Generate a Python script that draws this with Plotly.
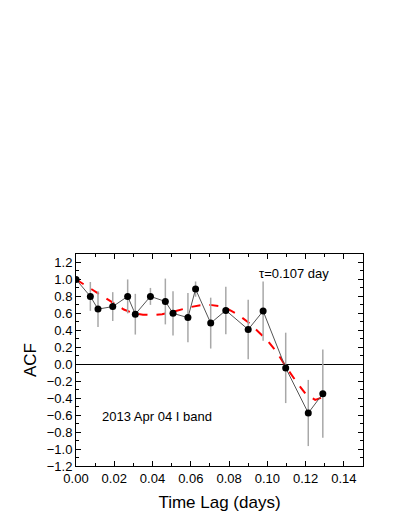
import plotly.graph_objects as go

# Data
lag = [0.0, 0.0075, 0.0115, 0.0192, 0.027, 0.031, 0.0389, 0.0467, 0.0507, 0.0585,
       0.0625, 0.0704, 0.0783, 0.090, 0.0978, 0.1096, 0.1214, 0.129]
acf = [1.0, 0.80, 0.65, 0.68, 0.80, 0.59, 0.80, 0.74, 0.60, 0.55,
       0.886, 0.485, 0.635, 0.41, 0.627, -0.043, -0.575, -0.347]
acf_err = [0.0, 0.17, 0.21, 0.17, 0.20, 0.24, 0.10, 0.27, 0.26, 0.29,
           0.09, 0.30, 0.28, 0.35, 0.35, 0.415, 0.39, 0.52]

fit_lag = [0.0, 0.005, 0.01, 0.015, 0.02, 0.025, 0.03, 0.035, 0.04, 0.045, 0.05,
           0.055, 0.06, 0.065, 0.07, 0.075, 0.08, 0.085, 0.09, 0.095, 0.10,
           0.105, 0.11, 0.115, 0.12, 0.125, 0.129]
fit_acf = [1.0, 0.93, 0.86, 0.78, 0.71, 0.645, 0.60, 0.585, 0.58, 0.59, 0.615,
           0.645, 0.675, 0.695, 0.70, 0.685, 0.645, 0.58, 0.495, 0.39, 0.28,
           0.14, -0.04, -0.20, -0.35, -0.42, -0.39]

x_ticks = [0.0, 0.02, 0.04, 0.06, 0.08, 0.10, 0.12, 0.14]
y_ticks = [-1.2, -1.0, -0.8, -0.6, -0.4, -0.2, 0.0, 0.2, 0.4, 0.6, 0.8, 1.0, 1.2]

FONT = "Liberation Sans, Arial, sans-serif"

fig = go.Figure()

fig.add_trace(go.Scatter(
    x=fit_lag, y=fit_acf, mode="lines",
    line=dict(color="#ff0000", width=2, dash="dash"),
    showlegend=False, hoverinfo="skip"))

fig.add_trace(go.Scatter(
    x=lag, y=acf, mode="lines+markers",
    line=dict(color="#555555", width=1),
    marker=dict(color="black", size=7),
    error_y=dict(type="data", array=acf_err, visible=True,
                 color="#a8a8a8", thickness=1.5, width=0),
    showlegend=False))

fig.add_annotation(x=0.1137, y=1.07, xref="x", yref="y", text="τ=0.107 day",
                   showarrow=False, font=dict(family=FONT, size=13, color="black"))
fig.add_annotation(x=0.0425, y=-0.62, xref="x", yref="y", text="2013 Apr 04 I band",
                   showarrow=False, font=dict(family=FONT, size=13, color="black"))

axis_common = dict(
    showline=True, linecolor="black", linewidth=1, mirror="ticks",
    ticks="inside", ticklen=5, tickcolor="black", tickwidth=1,
    showgrid=False, automargin=False,
    tickfont=dict(family=FONT, size=13, color="black"),
)

fig.update_xaxes(
    **axis_common,
    range=[0, 0.15], tickvals=x_ticks, tickformat=".2f",
    zeroline=False,
    minor=dict(ticks="inside", ticklen=3, dtick=0.01, tick0=0, tickcolor="black", showgrid=False),
    title=dict(text="Time Lag (days)", font=dict(family=FONT, size=17, color="black"), standoff=11),
)
fig.update_yaxes(
    **axis_common,
    range=[-1.2, 1.3], tickvals=y_ticks, tickformat=".1f",
    zeroline=True, zerolinecolor="black", zerolinewidth=1.2,
    minor=dict(ticks="inside", ticklen=3, dtick=0.1, tick0=0, tickcolor="black", showgrid=False),
    title=dict(text="ACF", font=dict(family=FONT, size=17, color="black"), standoff=5),
)

fig.update_layout(
    width=391, height=508,
    margin=dict(l=68, r=36, t=246, b=50),
    paper_bgcolor="white", plot_bgcolor="white",
    font=dict(family=FONT, color="black"),
)

fig.write_html("out.html")
